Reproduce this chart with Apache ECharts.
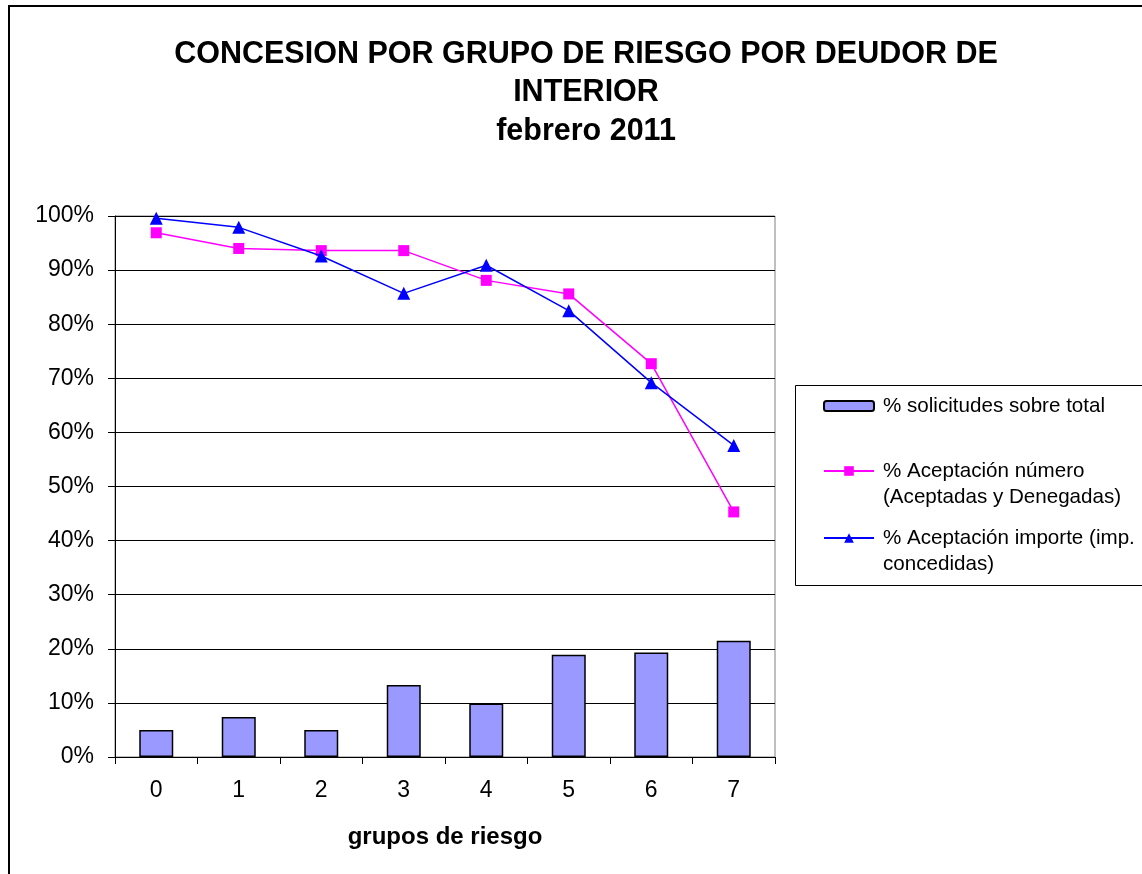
<!DOCTYPE html>
<html>
<head>
<meta charset="utf-8">
<title>Concesion por grupo de riesgo</title>
<script src="https://cdn.jsdelivr.net/npm/echarts@6/dist/echarts.min.js"></script>
<style>
  html, body { margin: 0; padding: 0; background: #fff; }
  #main { width: 1142px; height: 874px; }
</style>
</head>
<body>
<div id="main"></div>
<script>
// datos (en %)
var grupos = ['0', '1', '2', '3', '4', '5', '6', '7'];
var solicitudes = [5.0, 7.4, 5.0, 13.3, 9.9, 18.9, 19.3, 21.5];
var aceptNumero = [96.9, 94.0, 93.6, 93.6, 88.1, 85.6, 72.7, 45.3];
var aceptImporte = [99.6, 97.9, 92.6, 85.7, 90.9, 82.5, 69.2, 57.6];
var nombres = ['% solicitudes sobre total', '% Aceptación número', '% Aceptación importe'];
var nombresLeyenda = [
  '% solicitudes sobre total',
  ' \n% Aceptación número\n(Aceptadas y Denegadas)',
  ' \n% Aceptación importe (imp.\nconcedidas)'
];

var chart = echarts.init(document.getElementById('main'));
var fuente = 'Liberation Sans, Arial, sans-serif';

// una leyenda por serie, asi cada icono queda en la primera linea
function leyenda(i, top, alto) {
  return {
    show: true,
    left: 823,
    top: top,
    padding: 0,
    orient: 'vertical',
    itemWidth: 50,
    itemHeight: alto,
    data: [nombres[i]],
    formatter: function () { return nombresLeyenda[i]; },
    textStyle: { fontFamily: fuente, fontSize: 20.6, lineHeight: 26, color: '#000', padding: [0, 0, 0, 4] }
  };
}

var option = {
  animation: false,
  backgroundColor: '#fff',
  title: {
    text: 'CONCESION POR GRUPO DE RIESGO POR DEUDOR DE\nINTERIOR\nfebrero 2011',
    left: 586,
    textAlign: 'center',
    top: 35,
    padding: 0,
    textStyle: { fontFamily: fuente, fontSize: 30.5, fontWeight: 'bold', lineHeight: 38.5, color: '#000' }
  },
  legend: [
    leyenda(0, 393, 10),
    leyenda(1, 432, 12),
    leyenda(2, 499, 12)
  ],
  graphic: [
    // marco exterior
    { type: 'rect', shape: { x: 9, y: 6, width: 1200, height: 1000 }, style: { fill: null, stroke: '#000', lineWidth: 2 }, z: -1 },
    // marco de la leyenda
    { type: 'rect', shape: { x: 795.5, y: 385.5, width: 400, height: 200 }, style: { fill: null, stroke: '#000', lineWidth: 1 }, z: -1 }
  ],
  grid: {
    left: 115,
    right: 367,
    top: 216,
    bottom: 117,
    show: true,
    borderColor: '#808080',
    borderWidth: 1
  },
  xAxis: {
    type: 'category',
    data: grupos,
    boundaryGap: true,
    name: 'grupos de riesgo',
    nameLocation: 'middle',
    nameGap: 68,
    nameTextStyle: { fontFamily: fuente, fontSize: 24, fontWeight: 'bold', color: '#000' },
    axisLine: { lineStyle: { color: '#000', width: 1 } },
    axisTick: { show: true, inside: false, length: 7, alignWithLabel: false, lineStyle: { color: '#000' } },
    axisLabel: { fontFamily: fuente, fontSize: 23, color: '#000', margin: 22 },
    splitLine: { show: false }
  },
  yAxis: {
    type: 'value',
    min: 0,
    max: 100,
    interval: 10,
    axisLine: { show: true, lineStyle: { color: '#000', width: 1 } },
    axisTick: { show: true, inside: false, length: 7, lineStyle: { color: '#000' } },
    axisLabel: { fontFamily: fuente, fontSize: 23, color: '#000', margin: 21, formatter: '{value}%' },
    splitLine: { show: true, lineStyle: { color: '#000', width: 1 } }
  },
  series: [
    {
      name: nombres[0],
      type: 'bar',
      data: solicitudes,
      barWidth: 34,
      itemStyle: { color: '#9999FF', borderColor: '#000', borderWidth: 1.5 }
    },
    {
      name: nombres[1],
      type: 'line',
      data: aceptNumero,
      symbol: 'rect',
      symbolSize: 11,
      lineStyle: { color: '#FF00FF', width: 1.5 },
      itemStyle: { color: '#FF00FF' },
      z: 3
    },
    {
      name: nombres[2],
      type: 'line',
      data: aceptImporte,
      symbol: 'triangle',
      symbolSize: 13,
      lineStyle: { color: '#0000FF', width: 1.5 },
      itemStyle: { color: '#0000FF' },
      z: 4
    }
  ]
};

chart.setOption(option);
</script>
</body>
</html>
